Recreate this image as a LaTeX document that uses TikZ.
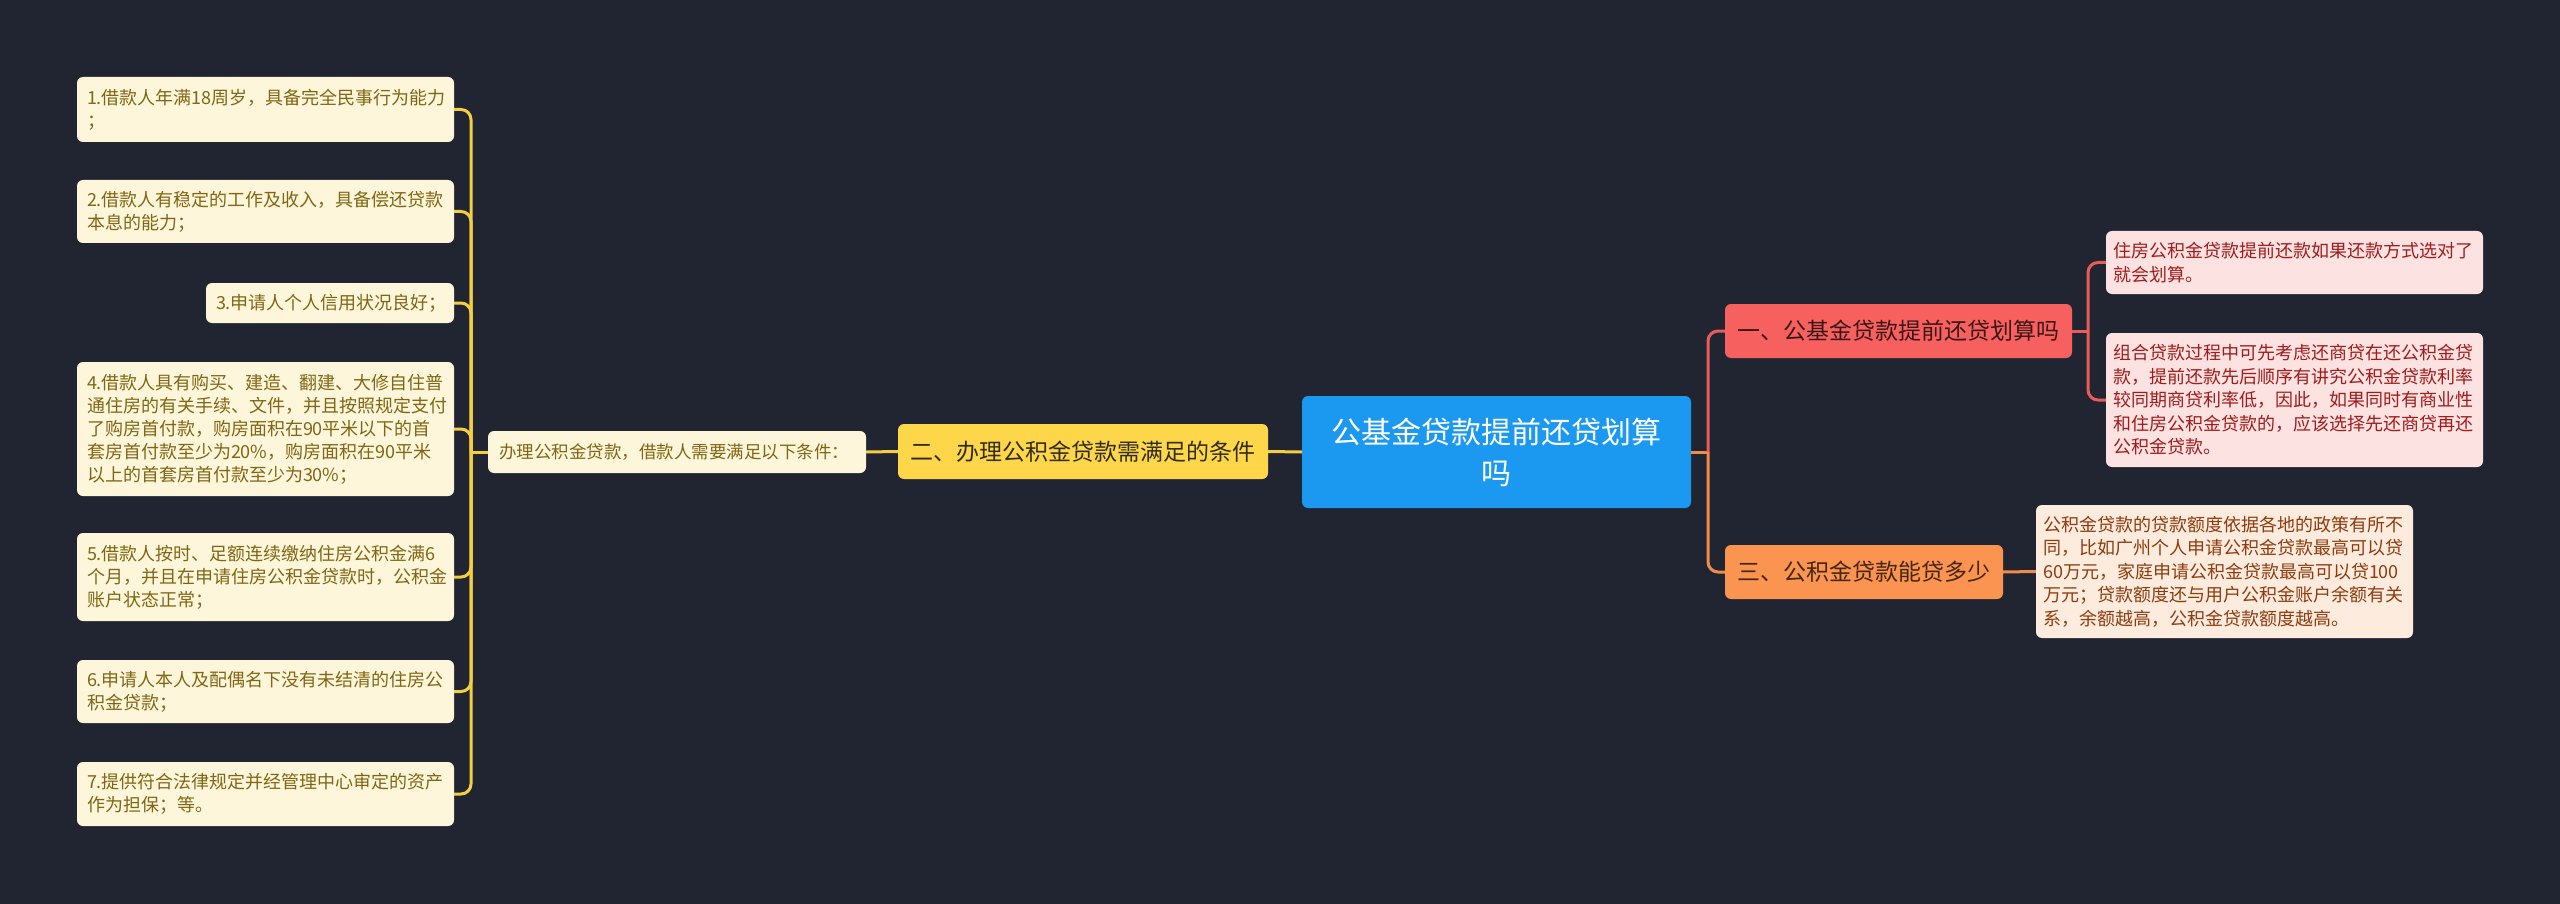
\documentclass[tikz,border=0pt]{standalone}
\usepackage{fontspec}
\setmainfont{Noto Sans CJK SC}
\definecolor{bgc}{RGB}{33,37,49}
\definecolor{leaff}{RGB}{253,246,219}
\definecolor{leaft}{RGB}{128,102,20}
\definecolor{yelf}{RGB}{253,214,74}
\definecolor{yelt}{RGB}{50,45,25}
\definecolor{yell}{RGB}{245,206,66}
\definecolor{bluef}{RGB}{27,152,240}
\definecolor{redf}{RGB}{246,97,95}
\definecolor{redt}{RGB}{60,22,22}
\definecolor{redl}{RGB}{232,92,90}
\definecolor{pinkf}{RGB}{253,226,226}
\definecolor{pinkt}{RGB}{160,28,28}
\definecolor{orf}{RGB}{250,148,80}
\definecolor{ort}{RGB}{70,38,15}
\definecolor{orl}{RGB}{240,140,75}
\definecolor{peachf}{RGB}{253,236,222}
\definecolor{peacht}{RGB}{140,60,15}
\begin{document}
\begin{tikzpicture}[x=1pt,y=-1pt,
  box/.style={rounded corners=6pt, inner sep=0pt},
  leaf/.style={box, fill=leaff, text=leaft, align=left, font=\fontsize{18}{23}\selectfont},
  pinkleaf/.style={box, fill=pinkf, text=pinkt, align=left, font=\fontsize{18}{23.5}\selectfont},
  peachleaf/.style={box, fill=peachf, text=peacht, align=left, font=\fontsize{18}{23.5}\selectfont},
  main/.style={box, align=center, font=\fontsize{23}{28}\selectfont},
  yline/.style={draw=yell, line width=3pt, rounded corners=10pt},
  rline/.style={draw=redl, line width=3pt, rounded corners=10pt},
  oline/.style={draw=orl, line width=3pt, rounded corners=10pt}]
\fill[bgc] (0,0) rectangle (2560,904);
\useasboundingbox (0,0) rectangle (2560,904);

% central
\node[box, fill=bluef, text=white, align=center, font=\fontsize{30}{41}\selectfont,
  minimum width=389pt, minimum height=112pt] (root) at (1496.5,452) {公基金贷款提前还贷划算\\吗};

% level 1
\node[main, fill=yelf, text=yelt, minimum width=370pt, minimum height=55pt] (yel) at (1083,451.5) {二、办理公积金贷款需满足的条件};
\node[main, fill=redf, text=redt, minimum width=347pt, minimum height=54pt] (red) at (1898.5,331) {一、公基金贷款提前还贷划算吗};
\node[main, fill=orf, text=ort, minimum width=278pt, minimum height=54pt] (org) at (1864,572) {三、公积金贷款能贷多少};

% intro
\node[leaf, font=\fontsize{17.5}{23}\selectfont, minimum width=378pt, minimum height=42pt, text width=356pt] (intro) at (677,452) {办理公积金贷款，借款人需要满足以下条件：};

% left leaves
\node[leaf, minimum width=377pt, minimum height=65pt, text width=357pt] (b1) at (265.5,109.5) {1.借款人年满18周岁，具备完全民事行为能力\\；};
\node[leaf, minimum width=377pt, minimum height=63pt, text width=357pt] (b2) at (265.5,211.5) {2.借款人有稳定的工作及收入，具备偿还贷款\\本息的能力；};
\node[leaf, minimum width=248pt, minimum height=40pt, text width=228pt] (b3) at (330,303) {3.申请人个人信用状况良好；};
\node[leaf, minimum width=377pt, minimum height=134pt, text width=357pt] (b4) at (265.5,429) {4.借款人具有购买、建造、翻建、大修自住普\\通住房的有关手续、文件，并且按照规定支付\\了购房首付款，购房面积在90平米以下的首\\套房首付款至少为20\%，购房面积在90平米\\以上的首套房首付款至少为30\%；};
\node[leaf, minimum width=377pt, minimum height=88pt, text width=357pt] (b5) at (265.5,577) {5.借款人按时、足额连续缴纳住房公积金满6\\个月，并且在申请住房公积金贷款时，公积金\\账户状态正常；};
\node[leaf, minimum width=377pt, minimum height=63pt, text width=357pt] (b6) at (265.5,691.5) {6.申请人本人及配偶名下没有未结清的住房公\\积金贷款；};
\node[leaf, minimum width=377pt, minimum height=64pt, text width=357pt] (b7) at (265.5,794) {7.提供符合法律规定并经管理中心审定的资产\\作为担保；等。};

% right leaves
\node[pinkleaf, minimum width=377pt, minimum height=63pt, text width=363pt] (p1) at (2294.5,262.5) {住房公积金贷款提前还款如果还款方式选对了\\就会划算。};
\node[pinkleaf, minimum width=377pt, minimum height=134pt, text width=363pt] (p2) at (2294.5,400) {组合贷款过程中可先考虑还商贷在还公积金贷\\款，提前还款先后顺序有讲究公积金贷款利率\\较同期商贷利率低，因此，如果同时有商业性\\和住房公积金贷款的，应该选择先还商贷再还\\公积金贷款。};
\node[peachleaf, minimum width=377pt, minimum height=133pt, text width=363pt] (pe) at (2224.5,571.5) {公积金贷款的贷款额度依据各地的政策有所不\\同，比如广州个人申请公积金贷款最高可以贷\\60万元，家庭申请公积金贷款最高可以贷100\\万元；贷款额度还与用户公积金账户余额有关\\系，余额越高，公积金贷款额度越高。};

% connectors left
\coordinate (ls) at (471,452);
\draw[yline] (root.west) -- (yel.east);
\draw[yline] (yel.west) -- (intro.east);
\draw[yline] (intro.west) -- (ls);
\foreach \b in {b1,b2,b3,b4,b5,b6,b7}{
  \draw[yline] (\b.east) -| (ls);
}

% connectors right
\coordinate (rs) at (1708,452);
\draw[oline] (root.east) -- (rs);
\draw[rline] (red.west) -| (rs);
\draw[oline] (org.west) -| (rs);
\coordinate (ps) at (2088,331);
\draw[rline] (red.east) -- (ps);
\draw[rline] (p1.west) -| (ps);
\draw[rline] (p2.west) -| (ps);
\draw[oline] (org.east) -- (pe.west);
\end{tikzpicture}
\end{document}
